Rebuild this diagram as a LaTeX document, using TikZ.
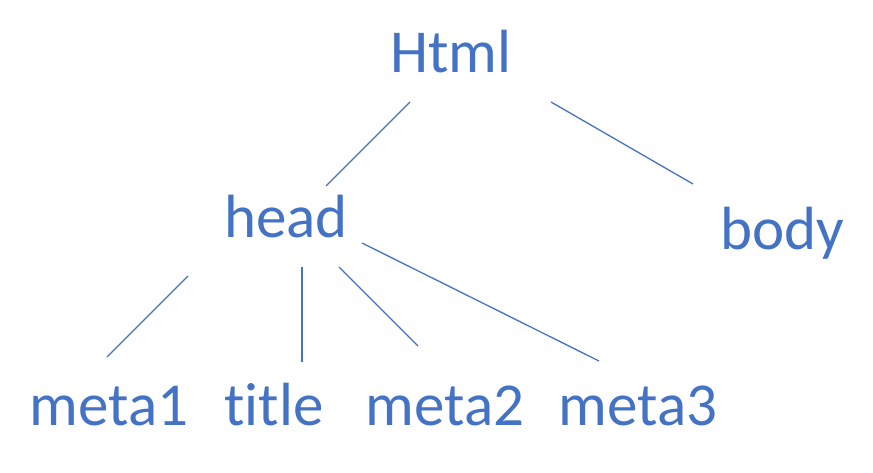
\documentclass[tikz,border=0pt]{standalone}
\usepackage{fontspec}
\setmainfont{Carlito}[RawFeature=-liga]
\usepackage{tikz}
\usepackage{xcolor}
\definecolor{officeblue}{HTML}{4472C4}
\tikzset{
    tag/.style = {text=officeblue, font=\fontsize{61}{70}\selectfont, inner sep=0pt, anchor=base},
    edge/.style = {draw=officeblue, line width=1.3pt},
}

\begin{document}
\begin{tikzpicture}[x=1pt, y=-1pt]
\useasboundingbox (0,0) rectangle (873,473);
\node[tag] (html) at (451,73) {Html};
\node[tag] (head) at (286,238) {head};
\node[tag] (body) at (782,250) {body};
\node[tag] (meta1) at (109,425) {meta1};
\node[tag] (title) at (274,425) {title};
\node[tag] (meta2) at (445,425) {meta2};
\node[tag] (meta3) at (638,425) {meta3};

% free ends of the branches
\coordinate (html-l) at (410,102);
\coordinate (html-r) at (551,102);
\coordinate (head-u) at (326,186);
\coordinate (body-u) at (693,184);
\coordinate (head-a) at (188,276);
\coordinate (head-b) at (302,267);
\coordinate (head-c) at (339,267);
\coordinate (head-d) at (362,243);
\coordinate (meta1-u) at (107,357);
\coordinate (title-u) at (302,362);
\coordinate (meta2-u) at (418,346);
\coordinate (meta3-u) at (599,361);

\draw[edge] (html-l) -- (head-u);
\draw[edge] (html-r) -- (body-u);
\draw[edge] (head-a) -- (meta1-u);
\draw[edge] (head-b) -- (title-u);
\draw[edge] (head-c) -- (meta2-u);
\draw[edge] (head-d) -- (meta3-u);
\end{tikzpicture}
\end{document}
